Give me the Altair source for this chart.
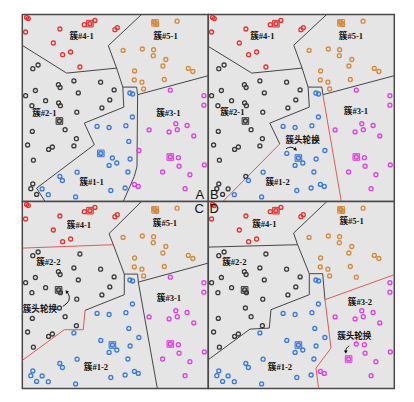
import altair as alt
import pandas as pd

W, H = 186, 187

COLORS = {1: "#3b78dc", 2: "#3a3a3a", 3: "#e03de0", 4: "#e8302f", 5: "#d4883c"}
LINE_BLACK = "#444444"
LINE_RED = "#e05a5a"

# node positions (panel pixel coordinates, y downward), grouped by cluster as in panel A
CLUSTER4 = [(4.3, 3.0), (6.0, 4.2), (3.3, 17.6), (37.6, 14.6), (31.0, 28.6), (40.3, 40.3),
            (48.3, 37.6), (57.6, 52.6), (62.0, 10.3), (67.6, 9.3), (72.6, 6.0), (92.6, 15.3), (95.0, 13.3)]
CLUSTER5 = [(131.6, 7.4), (132.8, 8.5), (134.4, 10.0), (154.8, 6.8), (100.8, 36.0), (120.0, 34.6),
            (131.3, 35.3), (131.0, 41.3), (143.5, 45.1), (140.6, 51.6), (112.3, 56.5), (112.0, 65.5),
            (119.6, 67.8), (121.3, 74.5), (142.0, 65.1), (166.0, 54.0), (170.6, 57.1)]
CLUSTER2 = [(10.5, 54.3), (15.8, 50.6), (36.1, 70.3), (37.8, 73.1), (51.6, 66.5), (78.3, 67.8),
            (91.8, 75.5), (56.0, 78.5), (13.1, 76.1), (3.3, 81.3), (23.3, 86.3), (36.3, 88.5),
            (38.1, 91.3), (9.6, 91.3), (87.5, 85.5), (79.6, 93.5), (54.5, 97.8), (37.1, 106.6),
            (42.8, 115.3), (10.0, 117.0), (54.1, 124.3), (51.6, 131.5), (5.3, 130.6), (26.3, 135.0),
            (30.1, 132.6), (11.1, 145.8), (10.5, 169.5), (8.5, 174.3), (14.3, 180.0)]
CLUSTER1 = [(107.6, 78.6), (110.3, 79.6), (110.1, 102.6), (74.8, 112.0), (86.8, 113.1), (103.6, 111.3),
            (106.5, 127.0), (78.5, 139.0), (90.1, 143.6), (94.5, 148.6), (86.8, 151.0), (107.8, 144.6),
            (105.6, 157.6), (37.5, 162.0), (40.1, 166.1), (54.8, 157.8), (19.8, 174.5), (26.0, 180.3),
            (53.3, 182.5), (88.5, 176.1), (102.8, 173.6)]
CLUSTER3 = [(148.0, 75.8), (181.6, 81.3), (181.6, 90.8), (153.5, 109.3), (164.8, 111.1), (146.8, 117.5),
            (155.0, 115.3), (126.8, 115.5), (171.5, 121.5), (116.6, 136.1), (148.0, 142.6), (156.1, 143.3),
            (156.8, 151.8), (182.0, 150.5), (140.3, 157.6), (167.6, 160.3), (112.1, 170.0), (116.0, 172.0),
            (162.8, 174.3)]

# membership changes relative to panel A
MOVES = {
    "A": [],
    "B": [((37.5, 162.0), 2), ((19.8, 174.5), 2), ((116.6, 136.1), 1), ((112.1, 170.0), 1), ((116.0, 172.0), 1)],
    "C": [((10.5, 169.5), 1), ((8.5, 174.3), 1), ((14.3, 180.0), 1), ((57.6, 52.6), 2), ((51.6, 131.5), 1),
          ((116.6, 136.1), 1), ((112.1, 170.0), 1), ((116.0, 172.0), 1)],
    "D": [((10.5, 169.5), 1), ((8.5, 174.3), 1), ((14.3, 180.0), 1), ((57.6, 52.6), 2), ((51.6, 131.5), 1),
          ((116.6, 136.1), 1), ((148.0, 75.8), 5)],
}

HEADS = {
    "A": [(67.6, 9.3, 4), (132.8, 8.5, 5), (37.1, 106.6, 2), (78.5, 139.0, 1), (148.0, 142.6, 3)],
    "B": [(67.6, 9.3, 4), (132.8, 8.5, 5), (37.1, 106.6, 2), (90.1, 143.6, 1), (148.0, 142.6, 3)],
    "C": [(67.6, 9.3, 4), (132.8, 8.5, 5), (36.3, 88.5, 2), (90.1, 143.6, 1), (148.0, 142.6, 3)],
    "D": [(67.6, 9.3, 4), (132.8, 8.5, 5), (36.3, 88.5, 2), (90.1, 143.6, 1), (140.3, 157.6, 3)],
}

# cluster boundaries: (colour, polyline)
LINES = {
    "A": [("k", [(0, 31), (44.3, 58.7), (94.3, 53.7)]),
          ("k", [(119.3, 0), (86, 31.3), (94.3, 53.7), (100.5, 72.7), (101.5, 92.7)]),
          ("k", [(100.5, 72.7), (114.3, 72.7), (115.3, 80.3), (114.7, 152), (112, 162), (101, 187)]),
          ("k", [(115.3, 80.3), (186, 61.3)]),
          ("k", [(101.5, 92.7), (62, 108.7), (72, 130.3), (14.3, 173.7), (22.7, 187)])],
    "B": [("k", [(0, 32), (43.5, 58.7), (93.8, 53.7)]),
          ("k", [(118.5, 0), (85.5, 30.8), (93.8, 53.7), (99.8, 72.7), (101, 92.7)]),
          ("k", [(99.8, 72.7), (113.6, 72.7), (114.6, 80.3)]),
          ("k", [(114.6, 80.3), (186, 61.3)]),
          ("k", [(101, 92.7), (61.5, 108.7), (71.5, 129.5)]),
          ("r", [(71.5, 129.5), (14.7, 187)]),
          ("r", [(114.6, 80.3), (133, 187)])],
    "C": [("r", [(0, 46.7), (91, 43.3)]),
          ("k", [(119.3, 0), (86.7, 32.3), (91, 43.3), (102, 72.7), (102, 93.3)]),
          ("k", [(102, 72.7), (115.3, 72.7), (116, 80.7)]),
          ("k", [(116, 80.7), (186, 61.7)]),
          ("k", [(116, 80.7), (135, 187)]),
          ("k", [(102, 93.3), (62.7, 109)]),
          ("r", [(62.7, 109), (61, 128.3), (42, 128.3), (0, 159)])],
    "D": [("k", [(0, 45.7), (89.3, 43.3)]),
          ("k", [(118.7, 0), (85.3, 31.7), (89.3, 43.3), (101, 72.3), (101, 93.3)]),
          ("k", [(101, 72.3), (114.4, 72.3), (116.7, 98.3)]),
          ("k", [(101, 93.3), (62.7, 108.3), (61, 126.7), (41.7, 127.7), (0, 158.3)]),
          ("r", [(116.7, 98.3), (186, 73.3)]),
          ("r", [(116.7, 98.3), (122.7, 146.7), (107.7, 166.7), (110.3, 187)])],
}

LABELS = {
    "A": [(59.3, 21.3, "簇#4-1"), (143.3, 21.3, "簇#5-1"), (22, 98.6, "簇#2-1"),
          (146, 98.6, "簇#3-1"), (69.3, 167.6, "簇#1-1")],
    "B": [(54, 22, "簇#4-1"), (142.7, 21.3, "簇#5-1"), (24, 97.7, "簇#2-1"),
          (147.7, 97, "簇#3-1"), (69.3, 167.7, "簇#1-2"), (94.3, 126, "簇头轮换")],
    "C": [(56.7, 23.3, "簇#4-1"), (142.7, 21.7, "簇#5-1"), (26, 61, "簇#2-2"),
          (146.7, 96.7, "簇#3-1"), (73.7, 165.7, "簇#1-2"), (17.6, 107.3, "簇头轮换")],
    "D": [(56, 22.7, "簇#4-1"), (143.3, 20, "簇#5-1"), (26, 61, "簇#2-2"),
          (151.7, 101, "簇#3-2"), (71.7, 165.7, "簇#1-2"), (146, 135, "簇头轮换")],
}

ARROWS = {
    "B": ([(77.7, 134.3), (82.7, 132.0), (87.0, 134.8)], 125),
    "C": ([(40.5, 105.0), (46.8, 100.5), (47.4, 94.5), (44.6, 90.6)], 320),
    "D": ([(141.0, 144.5), (137.8, 146.5), (137.5, 150.2)], 180),
}

LETTERS = {"A": (177.6, 180.3), "B": (6.0, 180.3), "C": (177.0, 7.6), "D": (6.0, 7.6)}

XS = alt.Scale(domain=[0, W], nice=False, zero=False)
YS = alt.Scale(domain=[0, H], reverse=True, nice=False, zero=False)
LABEL_FONT = "Liberation Serif, Noto Sans CJK SC"


def enc(chart):
    return chart.encode(x=alt.X("x:Q", scale=XS, axis=None), y=alt.Y("y:Q", scale=YS, axis=None))


def panel(name):
    rows = []
    moves = {p: c for p, c in MOVES[name]}
    for cid, pts in [(1, CLUSTER1), (2, CLUSTER2), (3, CLUSTER3), (4, CLUSTER4), (5, CLUSTER5)]:
        for p in pts:
            c = moves.get(p, cid)
            rows.append({"x": p[0], "y": p[1], "col": COLORS[c]})
    df_pts = pd.DataFrame(rows)

    lrows = []
    for i, (c, pl) in enumerate(LINES[name]):
        for j, (x, y) in enumerate(pl):
            lrows.append({"x": x, "y": y, "seg": i, "o": j,
                          "col": LINE_RED if c == "r" else LINE_BLACK})
    df_lines = pd.DataFrame(lrows)

    df_heads = pd.DataFrame([{"x": x, "y": y, "col": COLORS[c]} for x, y, c in HEADS[name]])
    df_lab = pd.DataFrame([{"x": x, "y": y, "t": t} for x, y, t in LABELS[name]])
    lx, ly = LETTERS[name]
    df_let = pd.DataFrame([{"x": lx, "y": ly, "t": name}])

    layers = [
        enc(alt.Chart(df_lines).mark_line(strokeWidth=1, clip=True)).encode(
            detail="seg:N", order="o:Q", color=alt.Color("col:N", scale=None)),
        enc(alt.Chart(df_pts).mark_point(filled=False, size=16, strokeWidth=1.3, opacity=1)).encode(
            color=alt.Color("col:N", scale=None)),
        enc(alt.Chart(df_heads).mark_square(size=44, strokeWidth=1, fillOpacity=0.25, strokeOpacity=1)).encode(
            fill=alt.Color("col:N", scale=None), stroke=alt.Color("col:N", scale=None)),
        enc(alt.Chart(df_lab).mark_text(font=LABEL_FONT, fontSize=8.6, fontWeight="bold",
                                        color="#111111", baseline="middle", align="center")).encode(text="t:N"),
        enc(alt.Chart(df_let).mark_text(font="Liberation Sans", fontSize=13, color="#111",
                                        baseline="middle", align="center")).encode(text="t:N"),
    ]
    if name in ARROWS:
        path, ang = ARROWS[name]
        df_ar = pd.DataFrame([{"x": x, "y": y, "o": j} for j, (x, y) in enumerate(path)])
        df_tip = pd.DataFrame([{"x": path[-1][0], "y": path[-1][1]}])
        layers.append(enc(alt.Chart(df_ar).mark_line(strokeWidth=1, color="#111", interpolate="basis")).encode(
            order="o:Q"))
        layers.append(enc(alt.Chart(df_tip).mark_point(shape="triangle", filled=True, size=14,
                                                       color="#111", angle=ang, opacity=1)))
    return alt.layer(*layers).properties(width=W, height=H)


chart = alt.concat(
    panel("A"), panel("B"), panel("C"), panel("D"),
    columns=2,
    spacing=0,
    bounds="flush",
).properties(
    padding={"left": 11.3, "top": 3.4, "right": 4, "bottom": 4},
).configure_view(stroke="#4a4a4a", strokeWidth=1.5, fill="#e5e5e5")

chart.save("out.html", embed_options={"renderer": "svg", "actions": False})
